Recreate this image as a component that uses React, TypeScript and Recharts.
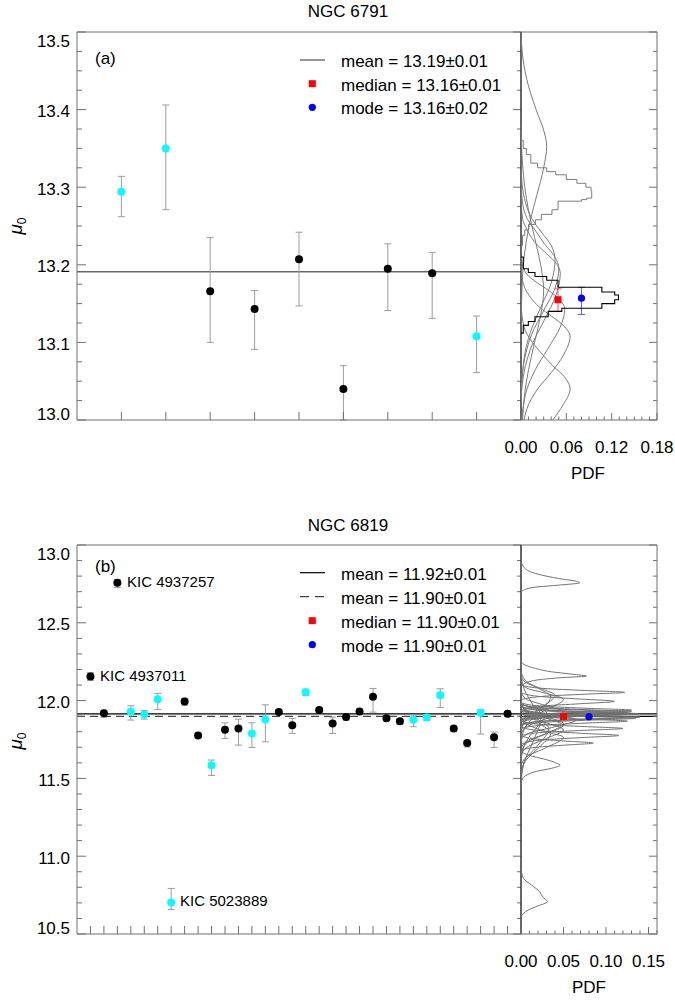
import React from 'react';
import { ScatterChart, Scatter, XAxis, YAxis, ErrorBar, ReferenceLine } from 'recharts';

const FONT = '"Liberation Sans", Arial, Helvetica, sans-serif';
const FRAME = '#707070';
const ERRC = '#9c9c9c';
const CURVE = '#7c7c7c';

// ---------------- Panel (a) NGC 6791 ----------------
const starA = [1, 2, 3, 4, 5, 6, 7, 8, 9];
const muA = [13.294, 13.350, 13.166, 13.143, 13.207, 13.040, 13.195, 13.189, 13.108];
const errUpA = [0.020, 0.056, 0.069, 0.024, 0.035, 0.030, 0.032, 0.027, 0.026];
const errDnA = [0.032, 0.079, 0.066, 0.052, 0.060, 0.040, 0.054, 0.058, 0.047];
const colorA = ['cyan', 'cyan', 'black', 'black', 'black', 'black', 'black', 'black', 'cyan'];
const meanA = 13.191;
const yMajorA = [13.0, 13.1, 13.2, 13.3, 13.4, 13.5];
const yTicksA = Array.from({ length: 21 }, (_, i) => +(13 + i * 0.025).toFixed(3));
const pdfMajorA = [0, 0.06, 0.12, 0.18];
const pdfTicksA = Array.from({ length: 19 }, (_, i) => +(i * 0.01).toFixed(2));
const medianA = { pdf: 0.049, mu: 13.155, err: [0.015, 0.014] };
const modeA = { pdf: 0.080, mu: 13.157, err: [0.021, 0.014] };

// smooth PDFs of single stars (mu, pdf)
const curvesA: number[][][] = [
  [[13.50, 0], [13.47, 0.002], [13.43, 0.010], [13.40, 0.020], [13.37, 0.031], [13.353, 0.034], [13.325, 0.030], [13.29, 0.021], [13.26, 0.013], [13.23, 0.007], [13.20, 0.003], [13.16, 0.001], [13.12, 0]],
  [[13.38, 0], [13.33, 0.002], [13.30, 0.005], [13.27, 0.010], [13.235, 0.018], [13.20, 0.026], [13.167, 0.030], [13.135, 0.026], [13.10, 0.018], [13.065, 0.010], [13.035, 0.005], [13.0, 0.002]],
  [[13.21, 0], [13.19, 0.006], [13.18, 0.017], [13.168, 0.035], [13.155, 0.051], [13.143, 0.058], [13.12, 0.052], [13.091, 0.035], [13.065, 0.019], [13.04, 0.008], [13.01, 0.002], [13.0, 0.001]],
  [[13.33, 0], [13.30, 0.002], [13.28, 0.006], [13.26, 0.014], [13.242, 0.027], [13.225, 0.040], [13.207, 0.045], [13.18, 0.041], [13.147, 0.027], [13.12, 0.015], [13.09, 0.006], [13.06, 0.002], [13.03, 0]],
  [[13.15, 0], [13.12, 0.004], [13.10, 0.015], [13.085, 0.028], [13.07, 0.042], [13.055, 0.058], [13.04, 0.065], [13.02, 0.056], [13.0, 0.042]],
  [[13.31, 0], [13.28, 0.002], [13.26, 0.008], [13.24, 0.022], [13.227, 0.031], [13.21, 0.045], [13.196, 0.050], [13.17, 0.045], [13.141, 0.030], [13.11, 0.014], [13.08, 0.005], [13.05, 0.001], [13.03, 0]],
  [[13.29, 0], [13.26, 0.002], [13.245, 0.008], [13.225, 0.022], [13.216, 0.032], [13.20, 0.048], [13.189, 0.052], [13.16, 0.046], [13.131, 0.032], [13.10, 0.016], [13.07, 0.006], [13.04, 0.001], [13.02, 0]],
  [[13.20, 0], [13.18, 0.002], [13.16, 0.011], [13.145, 0.025], [13.134, 0.040], [13.12, 0.058], [13.108, 0.065], [13.085, 0.057], [13.061, 0.040], [13.04, 0.022], [13.015, 0.008], [13.0, 0.004]],
];
// stepped histogram of star 1
const star1EdgesA = [13.360, 13.350, 13.342, 13.331, 13.325, 13.320, 13.316, 13.310, 13.305, 13.300, 13.295, 13.286, 13.284, 13.282, 13.271, 13.265, 13.258, 13.252, 13.245, 13.238, 13.225];
const star1ValsA = [0.003, 0.007, 0.013, 0.022, 0.034, 0.046, 0.060, 0.074, 0.086, 0.0927, 0.0936, 0.087, 0.080, 0.049, 0.041, 0.027, 0.019, 0.010, 0.005, 0.002];
// combined histogram (black)
const combEdgesA = [13.210, 13.195, 13.190, 13.185, 13.180, 13.171, 13.165, 13.161, 13.155, 13.150, 13.144, 13.140, 13.133, 13.127, 13.122, 13.112];
const combValsA = [0.003, 0.0097, 0.0185, 0.034, 0.049, 0.107, 0.124, 0.129, 0.124, 0.107, 0.054, 0.036, 0.0185, 0.0097, 0.003];

// ---------------- Panel (b) NGC 6819 ----------------
const starB = Array.from({ length: 32 }, (_, i) => i + 1);
const muB = [12.155, 11.918, 12.757, 11.928, 11.911, 12.008, 10.703, 11.995, 11.776, 11.585, 11.812, 11.821, 11.789, 11.879, 11.926, 11.841,
  12.053, 11.939, 11.853, 11.894, 11.930, 12.025, 11.886, 11.868, 11.877, 11.892, 12.035, 11.821, 11.727, 11.922, 11.765, 11.915];
const errUpB = [0.025, 0.020, 0.020, 0.039, 0.025, 0.038, 0.090, 0.020, 0.015, 0.033, 0.045, 0.060, 0.068, 0.094, 0.015, 0.045,
  0.020, 0.015, 0.041, 0.015, 0.015, 0.053, 0.015, 0.015, 0.030, 0.015, 0.041, 0.015, 0.015, 0.020, 0.033, 0.015];
const errDnB = [0.025, 0.025, 0.030, 0.053, 0.030, 0.065, 0.045, 0.025, 0.015, 0.066, 0.055, 0.107, 0.090, 0.144, 0.015, 0.052,
  0.020, 0.015, 0.064, 0.020, 0.015, 0.099, 0.015, 0.020, 0.045, 0.020, 0.079, 0.020, 0.025, 0.137, 0.066, 0.015];
const colorB = ['black', 'black', 'black', 'cyan', 'cyan', 'cyan', 'cyan', 'black', 'black', 'cyan', 'black', 'black', 'cyan', 'cyan', 'black', 'black',
  'cyan', 'black', 'black', 'black', 'black', 'black', 'black', 'black', 'cyan', 'cyan', 'cyan', 'black', 'black', 'cyan', 'black', 'black'];
const meanB1 = 11.915;
const meanB2 = 11.898;
const yMajorB = [10.5, 11.0, 11.5, 12.0, 12.5, 13.0];
const yTicksB = Array.from({ length: 26 }, (_, i) => +(10.5 + i * 0.1).toFixed(2));
const pdfMajorB = [0, 0.05, 0.10, 0.15];
const pdfTicksB = Array.from({ length: 17 }, (_, i) => +(i * 0.01).toFixed(2));
const medianB = { pdf: 0.050, mu: 11.897, err: [0.008, 0.008] };
const modeB = { pdf: 0.080, mu: 11.897, err: [0.008, 0.008] };

const curvesB: number[][][] = [
  [[12.25, 0], [12.228, 0.005], [12.207, 0.017], [12.185, 0.036], [12.170, 0.060], [12.157, 0.077], [12.149, 0.052], [12.136, 0.024], [12.121, 0.009], [12.10, 0.002], [12.08, 0]],
  [[11.96, 0], [11.94, 0.03], [11.928, 0.085], [11.918, 0.13], [11.908, 0.085], [11.896, 0.03], [11.876, 0]],
  [[12.90, 0], [12.86, 0.003], [12.828, 0.011], [12.807, 0.024], [12.785, 0.044], [12.764, 0.067], [12.757, 0.069], [12.742, 0.044], [12.731, 0.020], [12.71, 0.003], [12.694, 0]],
  [[12.06, 0], [12.01, 0.006], [11.97, 0.028], [11.928, 0.05], [11.88, 0.028], [11.83, 0.006], [11.78, 0]],
  [[11.96, 0], [11.935, 0.025], [11.922, 0.075], [11.911, 0.12], [11.90, 0.075], [11.887, 0.025], [11.86, 0]],
  [[12.12, 0], [12.08, 0.007], [12.046, 0.03], [12.008, 0.05], [11.943, 0.03], [11.88, 0.007], [11.82, 0]],
  [[10.922, 0], [10.857, 0.003], [10.814, 0.0125], [10.771, 0.022], [10.739, 0.0255], [10.707, 0.031], [10.681, 0.020], [10.654, 0.0086], [10.632, 0.003], [10.611, 0]],
  [[12.05, 0], [12.025, 0.025], [12.01, 0.07], [11.995, 0.11], [11.98, 0.07], [11.965, 0.025], [11.94, 0]],
  [[11.83, 0], [11.805, 0.025], [11.79, 0.07], [11.776, 0.115], [11.762, 0.07], [11.747, 0.025], [11.72, 0]],
  [[11.67, 0], [11.66, 0.004], [11.64, 0.015], [11.62, 0.03], [11.60, 0.041], [11.585, 0.046], [11.565, 0.036], [11.545, 0.018], [11.525, 0.008], [11.50, 0.002], [11.46, 0]],
  [[11.95, 0], [11.90, 0.007], [11.857, 0.03], [11.812, 0.05], [11.757, 0.03], [11.70, 0.007], [11.65, 0]],
  [[12.0, 0], [11.94, 0.005], [11.881, 0.02], [11.821, 0.033], [11.714, 0.02], [11.61, 0.004], [11.50, 0]],
  [[12.0, 0], [11.93, 0.005], [11.857, 0.021], [11.789, 0.035], [11.699, 0.021], [11.61, 0.005], [11.53, 0]],
  [[12.17, 0], [12.07, 0.004], [11.973, 0.014], [11.879, 0.023], [11.735, 0.014], [11.59, 0.003], [11.45, 0]],
  [[11.975, 0], [11.95, 0.027], [11.937, 0.08], [11.926, 0.125], [11.915, 0.08], [11.902, 0.027], [11.876, 0]],
  [[11.98, 0], [11.93, 0.007], [11.886, 0.03], [11.841, 0.05], [11.789, 0.03], [11.74, 0.007], [11.69, 0]],
  [[12.10, 0], [12.078, 0.027], [12.065, 0.075], [12.053, 0.122], [12.041, 0.075], [12.028, 0.027], [12.005, 0]],
  [[11.985, 0], [11.963, 0.028], [11.95, 0.08], [11.939, 0.13], [11.928, 0.08], [11.915, 0.028], [11.893, 0]],
  [[11.98, 0], [11.935, 0.007], [11.894, 0.03], [11.853, 0.05], [11.789, 0.03], [11.73, 0.007], [11.66, 0]],
  [[11.94, 0], [11.918, 0.03], [11.905, 0.087], [11.894, 0.14], [11.883, 0.087], [11.87, 0.03], [11.848, 0]],
  [[11.975, 0], [11.954, 0.028], [11.941, 0.08], [11.93, 0.13], [11.919, 0.08], [11.906, 0.028], [11.884, 0]],
  [[12.19, 0], [12.13, 0.005], [12.078, 0.021], [12.025, 0.035], [11.926, 0.021], [11.83, 0.005], [11.73, 0]],
  [[11.932, 0], [11.91, 0.03], [11.897, 0.083], [11.886, 0.135], [11.875, 0.083], [11.862, 0.03], [11.84, 0]],
  [[11.915, 0], [11.893, 0.027], [11.88, 0.078], [11.868, 0.125], [11.856, 0.078], [11.843, 0.027], [11.82, 0]],
  [[11.97, 0], [11.935, 0.009], [11.907, 0.04], [11.877, 0.065], [11.832, 0.04], [11.79, 0.009], [11.745, 0]],
  [[11.938, 0], [11.916, 0.028], [11.903, 0.08], [11.892, 0.13], [11.881, 0.08], [11.868, 0.028], [11.846, 0]],
  [[12.16, 0], [12.115, 0.006], [12.076, 0.024], [12.035, 0.04], [11.956, 0.024], [11.88, 0.006], [11.80, 0]],
  [[11.868, 0], [11.846, 0.026], [11.833, 0.075], [11.821, 0.12], [11.809, 0.075], [11.796, 0.026], [11.774, 0]],
  [[11.775, 0], [11.753, 0.018], [11.74, 0.052], [11.727, 0.085], [11.714, 0.052], [11.70, 0.018], [11.68, 0]],
  [[11.98, 0], [11.96, 0.01], [11.942, 0.025], [11.922, 0.03], [11.85, 0.022], [11.785, 0.012], [11.70, 0.003], [11.60, 0]],
  [[11.90, 0], [11.85, 0.007], [11.798, 0.03], [11.765, 0.05], [11.699, 0.03], [11.64, 0.007], [11.58, 0]],
  [[11.96, 0], [11.938, 0.03], [11.925, 0.087], [11.915, 0.14], [11.905, 0.087], [11.892, 0.03], [11.87, 0]],
];

// ---------------- helpers ----------------
const toPts = (c: number[][]) => c.map(([mu, pdf]) => ({ mu, pdf }));
const stepPts = (edges: number[], vals: number[]) => {
  const pts = [{ mu: edges[0], pdf: 0 }];
  vals.forEach((v, i) => {
    pts.push({ mu: edges[i], pdf: v });
    pts.push({ mu: edges[i + 1], pdf: v });
  });
  pts.push({ mu: edges[edges.length - 1], pdf: 0 });
  return pts;
};
const starPts = (stars: number[], mu: number[], up: number[], dn: number[], col: string[], which: string) =>
  stars.map((s, i) => ({ x: s, mu: mu[i], err: [dn[i], up[i]], c: col[i] })).filter((p) => p.c === which);

type Side = 'left' | 'right' | 'top' | 'bottom';
const isIn = (arr: number[], v: number) => arr.some((m) => Math.abs(m - v) < 1e-6);
function makeTick(side: Side, majors: number[], majorLen: number, minorLen: number,
  label?: (v: number, x: number, y: number) => React.ReactNode) {
  return (props: any) => {
    const { x, y, payload } = props;
    const v = payload.value as number;
    const major = isIn(majors, v);
    const len = major ? majorLen : minorLen;
    let x2 = x, y2 = y;
    if (side === 'left') x2 = x + len;
    else if (side === 'right') x2 = x - len;
    else if (side === 'top') y2 = y + len;
    else y2 = y - len;
    return (
      <g>
        <line x1={x} y1={y} x2={x2} y2={y2} stroke={FRAME} strokeWidth={1} />
        {major && label ? label(v, x, y) : null}
      </g>
    );
  };
}
const yLabel = (lo: number, hi: number) => (v: number, x: number, y: number) => (
  <text x={x - 7} y={y + (Math.abs(v - hi) < 1e-6 ? 9 : Math.abs(v - lo) < 1e-6 ? -6 : 2)} textAnchor="end"
    dominantBaseline="central" fontSize={17} fontFamily={FONT} fill="#000">{v.toFixed(1)}</text>
);
const pdfLabel = (v: number, x: number, y: number) => (
  <text x={x} y={y + 32.7} textAnchor="middle" fontSize={17} fontFamily={FONT} fill="#000">{v.toFixed(2)}</text>
);

const dot = (r: number) => (p: any) => <circle cx={p.cx} cy={p.cy} r={r} fill={p.fill} />;
const square = (s: number) => (p: any) => <rect x={p.cx - s / 2} y={p.cy - s / 2} width={s} height={s} fill={p.fill} />;
const none = () => <g />;

const axisCommon = { type: 'number' as const, allowDataOverflow: true, interval: 0 as const, tickSize: 0, tickMargin: 0, tickLine: false };

function MainPanel(props: { stars: number[]; mu: number[]; up: number[]; dn: number[]; col: string[]; xMax: number;
  yDom: [number, number]; yTicks: number[]; yMajor: number[]; height: number; mt: number; mb: number; refs: React.ReactNode }) {
  const { stars, mu, up, dn, col, xMax, yDom, yTicks, yMajor, height, mt, mb, refs } = props;
  return (
    <ScatterChart width={675} height={height} margin={{ top: mt - 1, right: 153, bottom: mb - 1, left: 76 }}>
      <XAxis {...axisCommon} dataKey="x" domain={[0, xMax]} ticks={stars} height={1} axisLine={{ stroke: FRAME }}
        tick={makeTick('bottom', stars, 8, 8)} />
      <XAxis {...axisCommon} xAxisId="t" orientation="top" domain={[0, xMax]} ticks={stars} height={1} axisLine={{ stroke: FRAME }}
        tick={makeTick('top', stars, 7, 7)} />
      <YAxis {...axisCommon} dataKey="mu" domain={yDom} ticks={yTicks} width={1} axisLine={{ stroke: FRAME }}
        tick={makeTick('left', yMajor, 9, 5, yLabel(yDom[0], yDom[1]))} />
      <YAxis {...axisCommon} yAxisId="r" orientation="right" domain={yDom} ticks={yTicks} width={1} axisLine={{ stroke: FRAME }}
        tick={makeTick('right', yMajor, 8, 4)} />
      {refs}
      <Scatter data={starPts(stars, mu, up, dn, col, 'black')} fill="#000000" shape={dot(4)} isAnimationActive={false}>
        <ErrorBar dataKey="err" direction="y" width={3.5} stroke={ERRC} strokeWidth={1} isAnimationActive={false} />
      </Scatter>
      <Scatter data={starPts(stars, mu, up, dn, col, 'cyan')} fill="#00ffff" shape={dot(4)} isAnimationActive={false}>
        <ErrorBar dataKey="err" direction="y" width={3.5} stroke={ERRC} strokeWidth={1} isAnimationActive={false} />
      </Scatter>
    </ScatterChart>
  );
}

function PdfPanel(props: { curves: number[][][]; extra: React.ReactNode; xMax: number; xTicks: number[]; xMajor: number[];
  yDom: [number, number]; yTicks: number[]; yMajor: number[]; height: number; mt: number; mb: number; refs: React.ReactNode;
  median: { pdf: number; mu: number; err: number[] }; mode: { pdf: number; mu: number; err: number[] }; curveColor: string }) {
  const { curves, extra, xMax, xTicks, xMajor, yDom, yTicks, yMajor, height, mt, mb, refs, median, mode, curveColor } = props;
  return (
    <ScatterChart width={675} height={height} margin={{ top: mt - 1, right: 17, bottom: mb - 1, left: 520 }}>
      <XAxis {...axisCommon} dataKey="pdf" domain={[0, xMax]} ticks={xTicks} height={1} axisLine={{ stroke: FRAME }}
        tick={makeTick('bottom', xMajor, 7, 3.5, pdfLabel)} />
      <XAxis {...axisCommon} xAxisId="t" orientation="top" domain={[0, xMax]} ticks={xTicks} height={1} axisLine={{ stroke: FRAME }}
        tick={makeTick('top', xMajor, 7, 3.5)} />
      <YAxis {...axisCommon} dataKey="mu" domain={yDom} ticks={yTicks} width={1} axisLine={{ stroke: '#303030', strokeWidth: 1.2 }}
        tick={false} />
      <YAxis {...axisCommon} yAxisId="r" orientation="right" domain={yDom} ticks={yTicks} width={1} axisLine={{ stroke: FRAME }}
        tick={makeTick('right', yMajor, 8, 4)} />
      {curves.map((c, i) => (
        <Scatter key={'c' + i} data={toPts(c)} fill={curveColor} line={{ stroke: curveColor, strokeWidth: 1 }}
          lineJointType="monotoneY" shape={none} isAnimationActive={false} />
      ))}
      {extra}
      {refs}
      <Scatter data={[{ pdf: median.pdf, mu: median.mu, err: median.err }]} fill="#ff0000" shape={square(7)} isAnimationActive={false}>
        <ErrorBar dataKey="err" direction="y" width={3.5} stroke="#ff5050" strokeWidth={1} isAnimationActive={false} />
      </Scatter>
      <Scatter data={[{ pdf: mode.pdf, mu: mode.mu, err: mode.err }]} fill="#0000ff" shape={dot(3.6)} isAnimationActive={false}>
        <ErrorBar dataKey="err" direction="y" width={3.5} stroke="#5a5aff" strokeWidth={1} isAnimationActive={false} />
      </Scatter>
    </ScatterChart>
  );
}

const T = (p: any) => <text fontFamily={FONT} fill="#000" fontSize={17} {...p} />;

export default function App() {
  return (
    <div style={{ position: 'absolute', left: 0, top: 0, width: 675, height: 1003, background: '#fff' }}>
      <div style={{ position: 'absolute', left: 0, top: 0 }}>
        <MainPanel stars={starA} mu={muA} up={errUpA} dn={errDnA} col={colorA} xMax={10} yDom={[13.0, 13.5]}
          yTicks={yTicksA} yMajor={yMajorA} height={470} mt={32} mb={50}
          refs={<ReferenceLine y={meanA} stroke="#686868" strokeWidth={1.4} />} />
      </div>
      <div style={{ position: 'absolute', left: 0, top: 0 }}>
        <PdfPanel curves={curvesA} xMax={0.18} xTicks={pdfTicksA} xMajor={pdfMajorA} yDom={[13.0, 13.5]}
          yTicks={yTicksA} yMajor={yMajorA} height={470} mt={32} mb={50} refs={null} median={medianA} mode={modeA}
          curveColor={CURVE}
          extra={[
            <Scatter key="s1" data={stepPts(star1EdgesA, star1ValsA)} fill={CURVE} line={{ stroke: CURVE, strokeWidth: 1 }}
              lineJointType="linear" shape={none} isAnimationActive={false} />,
            <Scatter key="comb" data={stepPts(combEdgesA, combValsA)} fill="#000" line={{ stroke: '#000', strokeWidth: 1.1 }}
              lineJointType="linear" shape={none} isAnimationActive={false} />,
          ]} />
      </div>
      <div style={{ position: 'absolute', left: 0, top: 500 }}>
        <MainPanel stars={starB} mu={muB} up={errUpB} dn={errDnB} col={colorB} xMax={33} yDom={[10.5, 13.0]}
          yTicks={yTicksB} yMajor={yMajorB} height={480} mt={45} mb={46}
          refs={[
            <ReferenceLine key="m1" y={meanB1} stroke="#000" strokeWidth={1.2} />,
            <ReferenceLine key="m2" y={meanB2} stroke="#444" strokeWidth={1.2} strokeDasharray="8 5" />,
          ]} />
      </div>
      <div style={{ position: 'absolute', left: 0, top: 500 }}>
        <PdfPanel curves={curvesB} xMax={0.16} xTicks={pdfTicksB} xMajor={pdfMajorB} yDom={[10.5, 13.0]}
          yTicks={yTicksB} yMajor={yMajorB} height={480} mt={45} mb={46} median={medianB} mode={modeB}
          curveColor="#727272" extra={null}
          refs={[
            <ReferenceLine key="m1" y={meanB1} stroke="#000" strokeWidth={1.2} />,
            <ReferenceLine key="m2" y={meanB2} stroke="#000" strokeWidth={1.2} />,
          ]} />
      </div>
      <svg style={{ position: 'absolute', left: 0, top: 0, pointerEvents: 'none' }} width={675} height={1003}>
        {/* panel (a) */}
        <T x={348} y={16.5} textAnchor="middle">NGC 6791</T>
        <T x={95} y={63.5}>(a)</T>
        <line x1={300} y1={60} x2={325} y2={60} stroke="#686868" strokeWidth={1.4} />
        <T x={341} y={66.5}>mean = 13.19±0.01</T>
        <rect x={308.8} y={80.2} width={7} height={7} fill="#ff0000" />
        <T x={341} y={90.5}>median = 13.16±0.01</T>
        <circle cx={312.3} cy={107.3} r={3.6} fill="#0000ff" />
        <T x={341} y={114.3}>mode = 13.16±0.02</T>
        <text x={22} y={226} transform="rotate(-90 22 226)" textAnchor="middle" fontFamily={FONT} fontSize={19}>
          <tspan fontStyle="italic">μ</tspan><tspan fontSize={12} dy={4}>0</tspan>
        </text>
        <T x={588} y={479.3} textAnchor="middle">PDF</T>
        {/* panel (b) */}
        <T x={348} y={530.5} textAnchor="middle">NGC 6819</T>
        <T x={95} y={572}>(b)</T>
        <line x1={300} y1={572.7} x2={325} y2={572.7} stroke="#000" strokeWidth={1.2} />
        <T x={341} y={580}>mean = 11.92±0.01</T>
        <line x1={300} y1={596.7} x2={325} y2={596.7} stroke="#444" strokeWidth={1.2} strokeDasharray="9 6" />
        <T x={341} y={604}>mean = 11.90±0.01</T>
        <rect x={308.8} y={617.2} width={7} height={7} fill="#ff0000" />
        <T x={341} y={628}>median = 11.90±0.01</T>
        <circle cx={312.3} cy={644.7} r={3.6} fill="#0000ff" />
        <T x={341} y={652}>mode = 11.90±0.01</T>
        <T x={127} y={587} fontSize={15}>KIC 4937257</T>
        <T x={100} y={681} fontSize={15}>KIC 4937011</T>
        <T x={180} y={906} fontSize={15}>KIC 5023889</T>
        <text x={22} y={741} transform="rotate(-90 22 741)" textAnchor="middle" fontFamily={FONT} fontSize={19}>
          <tspan fontStyle="italic">μ</tspan><tspan fontSize={12} dy={4}>0</tspan>
        </text>
        <T x={589} y={992.7} textAnchor="middle">PDF</T>
      </svg>
    </div>
  );
}
